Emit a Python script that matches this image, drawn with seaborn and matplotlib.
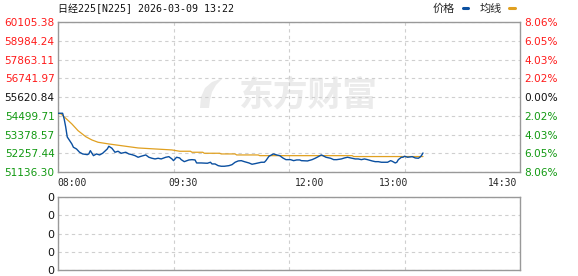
import numpy as np
import pandas as pd
import matplotlib
matplotlib.use("Agg")
import matplotlib.pyplot as plt
import matplotlib.transforms as mtransforms
from matplotlib.lines import Line2D
from matplotlib.patches import Polygon
import seaborn as sns

# ---------------- data ----------------
title_text = "日经225[N225] 2026-03-09 13:22"
series_names = ["价格", "均线"]
time_ticks = [0, 75, 150, 225, 300]
time_labels = ["08:00", "09:30", "12:00", "13:00", "14:30"]
price_ticks = [60105.38, 58984.24, 57863.11, 56741.97, 55620.84,
               54499.71, 53378.57, 52257.44, 51136.30]
pct_labels = ["8.06%", "6.05%", "4.03%", "2.02%", "0.00%",
              "2.02%", "4.03%", "6.05%", "8.06%"]
prev_close = 55620.84

price_min = [0, 3, 4, 5, 6, 9, 10, 12, 14, 16, 19, 20, 21, 23, 25, 27, 29, 32, 33, 35,
             37, 39, 41, 44, 46, 48, 50, 52, 54, 57, 59, 61, 63, 65, 67, 70, 72, 74, 75, 77,
             79, 80, 82, 85, 87, 89, 90, 93, 97, 99, 100, 102, 104, 106, 108, 111, 113, 115,
             117, 119, 121, 124, 126, 128, 130, 132, 134, 135, 137, 139, 140, 142, 144, 146,
             148, 151, 153, 155, 157, 158, 162, 165, 167, 169, 171, 172, 174, 177, 179, 181,
             184, 186, 188, 191, 193, 195, 197, 199, 201, 204, 206, 208, 210, 212, 214, 216,
             217, 219, 220, 221, 223, 224, 225, 227, 230, 232, 234, 235, 236, 237]
price_val = [54649, 54649, 54308, 53830, 53232, 52813, 52616, 52514, 52317, 52216, 52174,
             52216, 52413, 52114, 52216, 52156, 52257, 52514, 52676, 52556, 52317, 52377,
             52257, 52317, 52216, 52174, 52114, 52018, 52078, 52156, 52018, 51958, 51917,
             51958, 51917, 52018, 52054, 51917, 51815, 52018, 51976, 51875, 51755, 51857,
             51875, 51857, 51677, 51677, 51659, 51719, 51618, 51618, 51516, 51480, 51480,
             51516, 51576, 51719, 51797, 51815, 51755, 51677, 51600, 51636, 51677, 51719,
             51719, 51815, 52078, 52174, 52216, 52156, 52114, 51976, 51875, 51875, 51815,
             51857, 51857, 51815, 51797, 51875, 51958, 52054, 52156, 52114, 52018, 51958,
             51875, 51875, 51917, 51976, 52018, 51958, 51917, 51917, 51875, 51917, 51875,
             51797, 51755, 51755, 51719, 51719, 51719, 51815, 51779, 51677, 51719, 51875,
             52018, 52018, 52078, 52018, 52054, 51976, 51958, 52018, 52114, 52275]

avg_min = [0, 2, 9, 13, 18, 22, 26, 33, 41, 52, 63, 74, 79, 86, 87, 94, 95, 105, 106,
           115, 116, 130, 131, 191, 192, 237]
avg_val = [54649, 54607, 54009, 53609, 53250, 53053, 52915, 52813, 52712, 52574, 52514,
           52455, 52377, 52377, 52317, 52317, 52257, 52257, 52216, 52216, 52156, 52156,
           52114, 52114, 52060, 52060]

vol_ticks = [0, 1, 2, 3, 4]
vol_labels = ["0", "0", "0", "0", "0"]

# ---------------- style ----------------
sns.set_style("white")
plt.rcParams["font.family"] = ["DejaVu Sans", "Noto Sans CJK SC"]

RED = "#ff1a1a"
GREEN = "#119911"
BLUE = "#0a4fa0"
ORANGE = "#e0a020"
GRID = "#cfcfcf"
FRAME = "#999999"
WATER = "#ebebeb"

W, H = 578, 276
fig = plt.figure(figsize=(W / 100, H / 100), dpi=100)
fig.patch.set_facecolor("white")

def fx(px):
    return px / W

def fy(py):
    return 1 - py / H

ax = fig.add_axes([fx(58), fy(172), fx(520) - fx(58), fy(22) - fy(172)])
axv = fig.add_axes([fx(58), fy(270), fx(520) - fx(58), fy(197) - fy(270)])

df_price = pd.DataFrame({"t": price_min, "v": price_val})
df_avg = pd.DataFrame({"t": avg_min, "v": avg_val})

sns.lineplot(data=df_avg, x="t", y="v", ax=ax, color=ORANGE, linewidth=0.9, zorder=3)
sns.lineplot(data=df_price, x="t", y="v", ax=ax, color=BLUE, linewidth=1.0, zorder=4)

ax.set_xlim(time_ticks[0], time_ticks[-1])
ax.set_ylim(price_ticks[-1], price_ticks[0])
ax.set_xlabel("")
ax.set_ylabel("")
ax.set_yticks(price_ticks)
ax.set_yticklabels([f"{v:.2f}" for v in price_ticks])
ax.set_xticks(time_ticks)
ax.set_xticklabels(time_labels)

for a in (ax, axv):
    a.set_facecolor("none")
    for s in a.spines.values():
        s.set_color(FRAME)
        s.set_linewidth(1.0)
    a.grid(True, color=GRID, linestyle=(0, (3, 3)), linewidth=0.8)
    a.set_axisbelow(True)

ax.tick_params(axis="y", length=0, pad=2.5, labelsize=7.6)
ax.tick_params(axis="x", length=0, pad=4.5)
for lab in ax.get_xticklabels():
    lab.set_fontfamily("DejaVu Sans Mono")
    lab.set_fontsize(7)

def colour_labels(labels):
    for lab, v in zip(labels, price_ticks):
        if abs(v - prev_close) < 0.01:
            lab.set_color("#111111")
        elif v > prev_close:
            lab.set_color(RED)
        else:
            lab.set_color(GREEN)

colour_labels(ax.get_yticklabels())

# shift x labels like the reference
x_offsets = [14.5, 9.5, 21, -11, -17]
for lab, dx in zip(ax.get_xticklabels(), x_offsets):
    lab.set_transform(lab.get_transform() + mtransforms.ScaledTranslation(dx / 100, 0, fig.dpi_scale_trans))

# right percentage axis
axr = ax.twinx()
axr.set_ylim(ax.get_ylim())
axr.set_yticks(price_ticks)
axr.set_yticklabels(pct_labels)
axr.tick_params(axis="y", length=0, pad=3, labelsize=7.6)
for s in axr.spines.values():
    s.set_visible(False)
colour_labels(axr.get_yticklabels())

# volume panel
axv.set_xlim(time_ticks[0], time_ticks[-1])
axv.set_ylim(vol_ticks[0], vol_ticks[-1])
axv.set_xticks(time_ticks)
axv.set_xticklabels([])
axv.set_yticks(vol_ticks)
axv.set_yticklabels(vol_labels)
axv.tick_params(axis="both", length=0, pad=3, labelsize=8, labelcolor="#111111")

# watermark (logo swoosh + text)
logo_px = [(200, 108), (201, 97), (205, 88), (212, 82), (223, 78),
           (216, 85), (212, 92), (210, 100), (209, 108)]
ax.add_patch(Polygon([(fx(a), fy(b)) for a, b in logo_px], closed=True,
                     transform=fig.transFigure, facecolor=WATER, edgecolor="none", zorder=0))
ax.text(fx(308), fy(95.5), "东方财富", transform=fig.transFigure, fontsize=25,
        fontweight="bold", color=WATER, ha="center", va="center", zorder=0,
        family=["Noto Sans CJK SC"])

# title
fig.text(fx(58), fy(8.7), title_text, ha="left", va="center", fontsize=7.2,
         family=["DejaVu Sans Mono", "Noto Sans CJK SC"], color="#111111")

# legend
handles = [Line2D([], [], color=BLUE, linewidth=2.2),
           Line2D([], [], color=ORANGE, linewidth=2.2)]
fig.legend(handles, series_names, loc="center right", bbox_to_anchor=(fx(515), fy(8.5)),
           ncol=2, markerfirst=False, handlelength=0.5, handletextpad=0.7,
           columnspacing=1.0, frameon=False, borderpad=0, borderaxespad=0,
           prop={"family": ["Noto Sans CJK SC"], "size": 8})

fig.savefig("out.png", dpi=100, facecolor="white")
